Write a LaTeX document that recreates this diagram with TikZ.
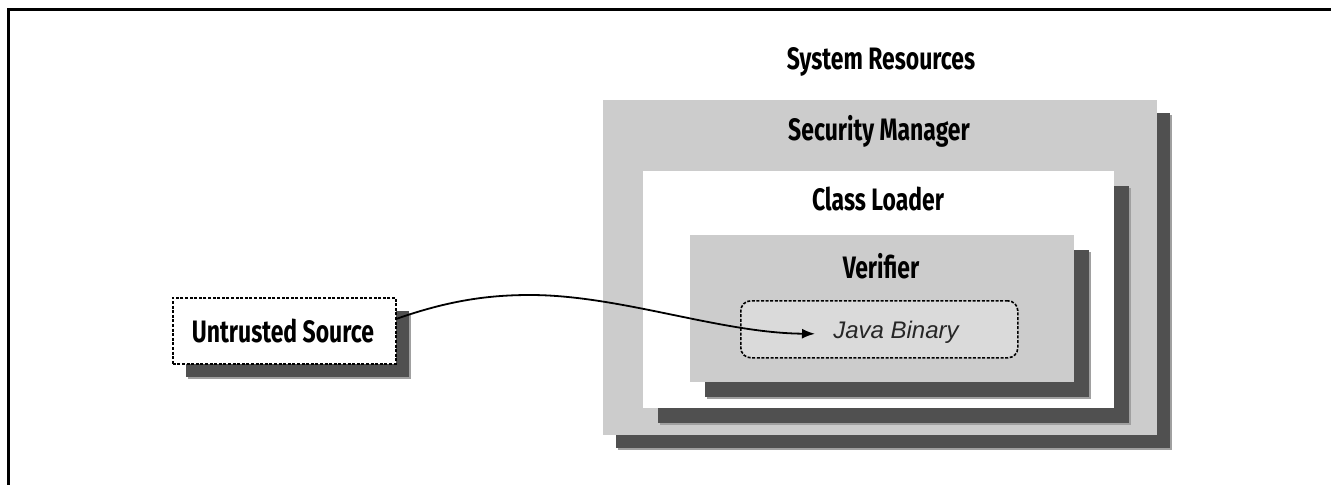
\documentclass[tikz,border=0pt]{standalone}
\usepackage{fontspec}
\usetikzlibrary{shadows,arrows.meta}
\newfontfamily\titlefont[FakeStretch=0.74]{Fira Sans}
\newfontfamily\jbfont{Liberation Sans}
\definecolor{boxgray}{HTML}{CCCCCC}
\definecolor{jbgray}{HTML}{DADADA}
\definecolor{shdark}{HTML}{505050}
\definecolor{shlight}{HTML}{A0A0A0}
\tikzset{
  ttl/.style={font=\titlefont\bfseries\fontsize{31}{33}\selectfont, inner sep=0pt, anchor=base},
  layer/.style={draw=none, inner sep=0pt, anchor=north west},
  shad/.style={drop shadow={shadow xshift=#1+2pt, shadow yshift=-#1-2pt, fill=shlight, opacity=1},
               drop shadow={shadow xshift=#1, shadow yshift=-#1, fill=shdark, opacity=1}},
  dashbox/.style={draw=black, line width=1.6pt, dash pattern=on 3pt off 1.6pt},
  conn/.style={line width=1.8pt, -{Latex[length=13pt,width=10pt]}}
}
\begin{document}
\begin{tikzpicture}[x=1pt,y=-1pt]
\useasboundingbox (0,0) rectangle (1331,485);
\fill[white] (0,0) rectangle (1331,485);
% frame
\coordinate (ftr) at (1331,9);
\coordinate (ftl) at (8,9);
\coordinate (fbl) at (8,485);
\draw[line width=3pt] (ftr) -- (ftl) -- (fbl);
% boxes
\node[layer, fill=boxgray, shad=13pt, minimum width=554pt, minimum height=335pt] (sm) at (603,100) {};
\node[layer, fill=white, shad=15pt, minimum width=471pt, minimum height=237pt] (cl) at (643,171) {};
\node[layer, fill=boxgray, shad=15pt, minimum width=384pt, minimum height=147pt] (vf) at (690,235) {};
\node[layer, fill=jbgray, dashbox, rounded corners=10pt, minimum width=277pt, minimum height=57pt] (jb) at (740,300) {};
\node[layer, fill=white, dashbox, shad=13pt, minimum width=223pt, minimum height=66pt] (us) at (172,297) {};
% labels
\node[ttl] (tsr) at (881,69) {System Resources};
\node[ttl] (tsm) at (879,140) {Security Manager};
\node[ttl] (tcl) at (878,210) {Class Loader};
\node[ttl] (tvf) at (881,278) {Verifier};
\node[ttl] (tus) at (283,342) {Untrusted Source};
\node[font=\jbfont\itshape\fontsize{24}{26}\selectfont, inner sep=0pt, anchor=base, text=black!85] (tjb) at (896,338) {Java Binary};
% connector
\coordinate (arrS) at ([yshift=12pt]us.east);
\coordinate (apeak) at (530,295);
\coordinate (arrE) at ([xshift=75pt,yshift=-4.5pt]jb.west);
\draw[conn] (arrS) .. controls (450,300) and (490,295) .. (apeak) .. controls (620,295) and (720,333) .. (arrE);
\end{tikzpicture}
\end{document}
